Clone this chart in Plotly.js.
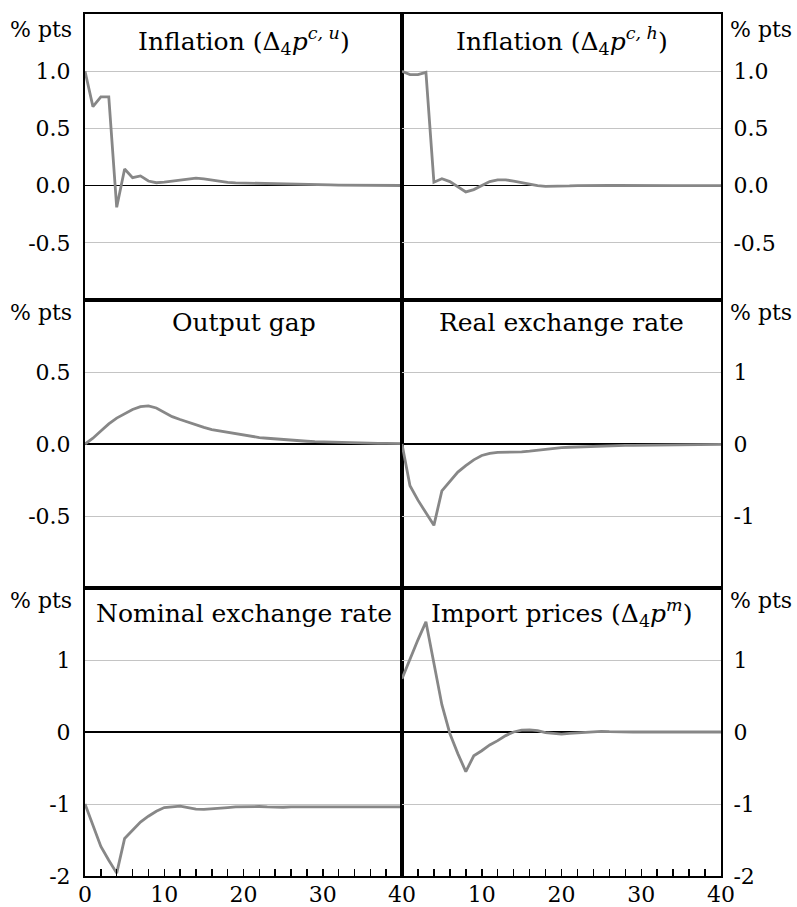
<!DOCTYPE html>
<html>
<head>
<meta charset="utf-8">
<script src="https://cdn.plot.ly/plotly-3.0.1.min.js"></script>
<style>
  html, body { margin: 0; padding: 0; background: #fff; }
  #chart { width: 797px; height: 907px; }
</style>
</head>
<body>
<div id="chart"></div>
<script>
// ---------------- DATA ----------------
const quarters = [0,1,2,3,4,5,6,7,8,9,10,11,12,13,14,15,16,17,18,19,20,
                  21,22,23,24,25,26,27,28,29,30,31,32,33,34,35,36,37,38,39,40];

const inflationU = [1.0,0.69,0.775,0.775,-0.19,0.145,0.07,0.085,0.04,0.025,0.03,
                    0.04,0.05,0.06,0.065,0.058,0.048,0.036,0.028,0.024,0.022,
                    0.022,0.022,0.02,0.017,0.014,0.012,0.01,0.009,0.008,0.007,
                    0.006,0.005,0.004,0.004,0.003,0.003,0.002,0.002,0.002,0.001];

const inflationH = [1.0,0.97,0.97,0.99,0.03,0.06,0.035,-0.01,-0.055,-0.035,0.0,
                    0.035,0.05,0.05,0.04,0.025,0.01,0.0,-0.006,-0.007,-0.005,
                    -0.003,0.0,0.002,0.003,0.003,0.002,0.001,0.0,-0.001,-0.001,
                    -0.001,0.0,0.0,0.0,0.0,0.0,0.0,0.0,0.0,0.0];

const outputGap = [0.0,0.04,0.09,0.14,0.18,0.21,0.24,0.26,0.265,0.25,0.22,
                   0.19,0.17,0.15,0.13,0.115,0.1,0.09,0.08,0.07,0.06,
                   0.052,0.045,0.04,0.035,0.03,0.026,0.022,0.019,0.016,0.014,
                   0.012,0.01,0.009,0.008,0.007,0.006,0.005,0.004,0.003,0.003];

const realExchangeRate = [0.0,-0.58,-0.78,-0.96,-1.13,-0.65,-0.52,-0.39,-0.3,-0.22,-0.16,
                          -0.13,-0.115,-0.115,-0.12,-0.11,-0.1,-0.085,-0.07,-0.06,-0.05,
                          -0.045,-0.04,-0.035,-0.032,-0.028,-0.025,-0.022,-0.02,-0.018,-0.016,
                          -0.014,-0.012,-0.011,-0.01,-0.009,-0.008,-0.007,-0.006,-0.005,-0.005];

const nominalExchangeRate = [-1.0,-1.3,-1.59,-1.78,-1.96,-1.48,-1.37,-1.25,-1.17,-1.1,-1.05,
                             -1.035,-1.03,-1.05,-1.07,-1.075,-1.07,-1.06,-1.05,-1.04,-1.035,
                             -1.035,-1.035,-1.04,-1.045,-1.045,-1.04,-1.04,-1.04,-1.04,-1.04,
                             -1.04,-1.04,-1.04,-1.04,-1.04,-1.04,-1.04,-1.04,-1.04,-1.04];

const importPrices = [0.74,1.02,1.28,1.53,0.93,0.38,-0.02,-0.3,-0.55,-0.33,-0.26,
                      -0.18,-0.12,-0.05,0.0,0.025,0.03,0.02,-0.01,-0.025,-0.03,
                      -0.02,-0.01,0.0,0.005,0.01,0.005,0.0,0.0,0.0,0.0,
                      0.0,0.0,0.0,0.0,0.0,0.0,0.0,0.0,0.0,0.0];

const panelTitles = [
  'Inflation (Δ<sub>4</sub><i>p</i><sup><i>c, u</i></sup>)',
  'Inflation (Δ<sub>4</sub><i>p</i><sup><i>c, h</i></sup>)',
  'Output gap',
  'Real exchange rate',
  'Nominal exchange rate',
  'Import prices (Δ<sub>4</sub><i>p</i><sup><i>m</i></sup>)'
];
const unitLabel = '% pts';

const xTickValsLeft = [0,10,20,30,40];
const xTickValsRight = [10,20,30,40];

const yTickValsInfl = [-0.5,0,0.5,1.0];
const yTickTextInfl = ['-0.5','0.0','0.5','1.0'];
const yTickValsGap = [-0.5,0,0.5];
const yTickTextGap = ['-0.5','0.0','0.5'];
const yTickValsReal = [-1,0,1];
const yTickTextReal = ['-1','0','1'];
const yTickValsExch = [-2,-1,0,1];
const yTickTextExch = ['-2','-1','0','1'];

// ---------------- LAYOUT ----------------
const W = 797, H = 907;
const fx = v => v / W;
const fy = v => 1 - v / H;
const colL = [85, 402], colR = [402, 721];
const rows = [[14, 300], [300, 588], [588, 876]];
const FONT = 'DejaVu Serif';
const TICK_SIZE = 22;
const TITLE_SIZE = 25;
const LINE = '#878787';

function xAxis(col, bottom, right, anchor) {
  const a = {
    domain: [fx(col[0]), fx(col[1])], range: [0, 40], anchor: anchor,
    showgrid: false, zeroline: false,
    showline: true, mirror: true, linecolor: '#000', linewidth: 2,
    fixedrange: true,
    tickfont: { family: FONT, size: TICK_SIZE, color: '#000' }
  };
  if (bottom) {
    a.tickmode = 'array';
    a.tickvals = right ? xTickValsRight : xTickValsLeft;
    a.ticks = 'inside'; a.ticklen = 7; a.tickwidth = 1.5; a.tickcolor = '#000';
    a.showticklabels = true;
    a.ticklabelstandoff = -2;
    a.minor = { dtick: 2, tick0: 0, ticks: 'inside', ticklen: 7, tickwidth: 1.5, tickcolor: '#000', showgrid: false };
  } else {
    a.ticks = ''; a.showticklabels = false; a.tickvals = [];
  }
  return a;
}

function yAxis(row, right, vals, text, range, anchor) {
  return {
    domain: [fy(row[1]), fy(row[0])], range: range, anchor: anchor,
    side: right ? 'right' : 'left',
    tickmode: 'array', tickvals: vals, ticktext: text,
    showgrid: true, gridcolor: '#c4c4c4', gridwidth: 1,
    zeroline: true, zerolinecolor: '#000', zerolinewidth: 1.5,
    showline: true, mirror: true, linecolor: '#000', linewidth: 2,
    ticks: 'outside', ticklen: right ? 6 : 8, tickcolor: 'rgba(0,0,0,0)',
    fixedrange: true,
    tickfont: { family: FONT, size: TICK_SIZE, color: '#000' }
  };
}

const series = [inflationU, inflationH, outputGap, realExchangeRate, nominalExchangeRate, importPrices];
const traces = series.map((ys, i) => ({
  x: quarters, y: ys, type: 'scatter', mode: 'lines',
  xaxis: i === 0 ? 'x' : 'x' + (i + 1),
  yaxis: i === 0 ? 'y' : 'y' + (i + 1),
  line: { color: LINE, width: 2.8 },
  hoverinfo: 'skip', showlegend: false
}));

const layout = {
  width: W, height: H,
  margin: { l: 0, r: 0, t: 0, b: 0 },
  paper_bgcolor: '#fff', plot_bgcolor: '#fff',
  showlegend: false,
  font: { family: FONT, color: '#000' },
  xaxis:  xAxis(colL, false, false, 'y'),
  xaxis2: xAxis(colR, false, true, 'y2'),
  xaxis3: xAxis(colL, false, false, 'y3'),
  xaxis4: xAxis(colR, false, true, 'y4'),
  xaxis5: xAxis(colL, true, false, 'y5'),
  xaxis6: xAxis(colR, true, true, 'y6'),
  yaxis:  yAxis(rows[0], false, yTickValsInfl, yTickTextInfl, [-1, 1.5], 'x'),
  yaxis2: yAxis(rows[0], true,  yTickValsInfl, yTickTextInfl, [-1, 1.5], 'x2'),
  yaxis3: yAxis(rows[1], false, yTickValsGap,  yTickTextGap,  [-1, 1], 'x3'),
  yaxis4: yAxis(rows[1], true,  yTickValsReal, yTickTextReal, [-2, 2], 'x4'),
  yaxis5: yAxis(rows[2], false, yTickValsExch, yTickTextExch, [-2, 2], 'x5'),
  yaxis6: yAxis(rows[2], true,  yTickValsExch, yTickTextExch, [-2, 2], 'x6'),
  annotations: []
};

const titleY = [41, 41, 322, 322, 613, 613];
panelTitles.forEach((t, i) => {
  const col = (i % 2 === 0) ? colL : colR;
  layout.annotations.push({
    text: t, xref: 'paper', yref: 'paper',
    x: fx((col[0] + col[1]) / 2), y: fy(titleY[i]),
    xanchor: 'center', yanchor: 'middle', showarrow: false,
    font: { family: FONT, size: TITLE_SIZE, color: '#000' }
  });
});

const unitY = [29, 313, 600];
unitY.forEach(yy => {
  layout.annotations.push({
    text: unitLabel, xref: 'paper', yref: 'paper', x: fx(74), y: fy(yy),
    xanchor: 'right', yanchor: 'middle', showarrow: false,
    font: { family: FONT, size: TICK_SIZE, color: '#000' }
  });
  layout.annotations.push({
    text: unitLabel, xref: 'paper', yref: 'paper', x: fx(728), y: fy(yy),
    xanchor: 'left', yanchor: 'middle', showarrow: false,
    font: { family: FONT, size: TICK_SIZE, color: '#000' }
  });
});

Plotly.newPlot('chart', traces, layout, { staticPlot: true, displayModeBar: false });
</script>
</body>
</html>
